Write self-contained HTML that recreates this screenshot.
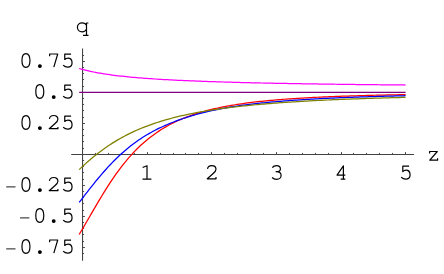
<!DOCTYPE html>
<html><head><meta charset="utf-8"><title>q(z)</title><style>
html,body{margin:0;padding:0;background:#fff;}
body{width:444px;height:274px;overflow:hidden;font-family:"Liberation Mono",monospace;}
svg{display:block}
</style></head><body>
<svg width="444" height="274" viewBox="0 0 444 274">
<rect width="444" height="274" fill="#fff"/>
<path d="M71.21,154.45 H414.06 M82.55,48.5 V260.7" stroke="#424242" stroke-width="1.05" fill="none"/>
<path d="M82.50,154.45 v-2.4 M95.50,154.45 v-1.5 M108.50,154.45 v-1.5 M121.50,154.45 v-1.5 M134.50,154.45 v-1.5 M147.50,154.45 v-2.4 M160.50,154.45 v-1.5 M173.50,154.45 v-1.5 M185.50,154.45 v-1.5 M198.50,154.45 v-1.5 M211.50,154.45 v-2.4 M224.50,154.45 v-1.5 M237.50,154.45 v-1.5 M250.50,154.45 v-1.5 M263.50,154.45 v-1.5 M276.50,154.45 v-2.4 M289.50,154.45 v-1.5 M302.50,154.45 v-1.5 M315.50,154.45 v-1.5 M328.50,154.45 v-1.5 M341.50,154.45 v-2.4 M353.50,154.45 v-1.5 M366.50,154.45 v-1.5 M379.50,154.45 v-1.5 M392.50,154.45 v-1.5 M405.50,154.45 v-2.4 M82.55,253.50 h1.5 M82.55,247.50 h2.4 M82.55,241.50 h1.5 M82.55,234.50 h1.5 M82.55,228.50 h1.5 M82.55,222.50 h1.5 M82.55,216.50 h2.4 M82.55,210.50 h1.5 M82.55,203.50 h1.5 M82.55,197.50 h1.5 M82.55,191.50 h1.5 M82.55,185.50 h2.4 M82.55,179.50 h1.5 M82.55,172.50 h1.5 M82.55,166.50 h1.5 M82.55,160.50 h1.5 M82.55,154.50 h2.4 M82.55,148.50 h1.5 M82.55,141.50 h1.5 M82.55,135.50 h1.5 M82.55,129.50 h1.5 M82.55,123.50 h2.4 M82.55,117.50 h1.5 M82.55,110.50 h1.5 M82.55,104.50 h1.5 M82.55,98.50 h1.5 M82.55,92.50 h2.4 M82.55,86.50 h1.5 M82.55,79.50 h1.5 M82.55,73.50 h1.5 M82.55,67.50 h1.5 M82.55,61.50 h2.4 M82.55,55.50 h1.5" stroke="#424242" stroke-width="0.95" fill="none"/>
<path d="M79.18,234.45 L81.23,231.03 L83.28,227.56 L85.34,224.04 L87.39,220.51 L89.44,216.95 L91.49,213.40 L93.55,209.85 L95.60,206.33 L97.65,202.83 L99.71,199.37 L101.76,195.96 L103.81,192.61 L105.86,189.31 L107.92,186.09 L109.97,182.93 L112.02,179.85 L114.08,176.84 L116.13,173.92 L118.18,171.08 L120.24,168.33 L122.29,165.65 L124.34,163.07 L126.39,160.56 L128.45,158.14 L130.50,155.81 L132.55,153.55 L134.61,151.38 L136.66,149.29 L138.71,147.27 L140.77,145.32 L142.82,143.45 L144.87,141.66 L146.92,139.93 L148.98,138.26 L151.03,136.66 L153.08,135.13 L155.14,133.65 L157.19,132.23 L159.24,130.87 L161.30,129.56 L163.35,128.30 L165.40,127.09 L167.45,125.93 L169.51,124.82 L171.56,123.75 L173.61,122.72 L175.67,121.73 L177.72,120.78 L179.77,119.86 L181.83,118.99 L183.88,118.14 L185.93,117.33 L187.98,116.55 L190.04,115.80 L192.09,115.08 L194.14,114.38 L196.20,113.71 L198.25,113.07 L200.30,112.45 L202.35,111.85 L204.41,111.28 L206.46,110.72 L208.51,110.19 L210.57,109.67 L212.62,109.18 L214.67,108.70 L216.73,108.24 L218.78,107.80 L220.83,107.37 L222.88,106.95 L224.94,106.55 L226.99,106.17 L229.04,105.80 L231.10,105.44 L233.15,105.09 L235.20,104.75 L237.26,104.43 L239.31,104.11 L241.36,103.81 L243.41,103.52 L245.47,103.23 L247.52,102.96 L249.57,102.69 L251.63,102.44 L253.68,102.19 L255.73,101.95 L257.79,101.71 L259.84,101.49 L261.89,101.27 L263.94,101.05 L266.00,100.85 L268.05,100.65 L270.10,100.45 L272.16,100.27 L274.21,100.08 L276.26,99.91 L278.32,99.73 L280.37,99.57 L282.42,99.41 L284.47,99.25 L286.53,99.10 L288.58,98.95 L290.63,98.80 L292.69,98.66 L294.74,98.53 L296.79,98.40 L298.85,98.27 L300.90,98.14 L302.95,98.02 L305.00,97.90 L307.06,97.79 L309.11,97.67 L311.16,97.56 L313.22,97.46 L315.27,97.36 L317.32,97.25 L319.37,97.16 L321.43,97.06 L323.48,96.97 L325.53,96.88 L327.59,96.79 L329.64,96.70 L331.69,96.62 L333.75,96.54 L335.80,96.46 L337.85,96.38 L339.90,96.30 L341.96,96.23 L344.01,96.16 L346.06,96.09 L348.12,96.02 L350.17,95.95 L352.22,95.88 L354.28,95.82 L356.33,95.76 L358.38,95.70 L360.43,95.64 L362.49,95.58 L364.54,95.52 L366.59,95.46 L368.65,95.41 L370.70,95.36 L372.75,95.31 L374.81,95.25 L376.86,95.20 L378.91,95.16 L380.96,95.11 L383.02,95.06 L385.07,95.02 L387.12,94.97 L389.18,94.93 L391.23,94.89 L393.28,94.84 L395.34,94.80 L397.39,94.76 L399.44,94.72 L401.49,94.69 L403.55,94.65 L405.60,94.61" stroke="#ff0000" stroke-width="1.25" fill="none" stroke-linejoin="round"/>
<path d="M79.18,202.43 L81.23,199.77 L83.28,197.11 L85.34,194.46 L87.39,191.81 L89.44,189.19 L91.49,186.59 L93.55,184.02 L95.60,181.48 L97.65,178.99 L99.71,176.53 L101.76,174.12 L103.81,171.76 L105.86,169.46 L107.92,167.20 L109.97,165.00 L112.02,162.85 L114.08,160.76 L116.13,158.73 L118.18,156.75 L120.24,154.83 L122.29,152.97 L124.34,151.16 L126.39,149.42 L128.45,147.72 L130.50,146.08 L132.55,144.50 L134.61,142.96 L136.66,141.48 L138.71,140.05 L140.77,138.66 L142.82,137.33 L144.87,136.04 L146.92,134.79 L148.98,133.59 L151.03,132.43 L153.08,131.31 L155.14,130.23 L157.19,129.18 L159.24,128.17 L161.30,127.19 L163.35,126.25 L165.40,125.33 L167.45,124.45 L169.51,123.59 L171.56,122.76 L173.61,121.96 L175.67,121.18 L177.72,120.42 L179.77,119.68 L181.83,118.97 L183.88,118.28 L185.93,117.60 L187.98,116.95 L190.04,116.31 L192.09,115.70 L194.14,115.10 L196.20,114.52 L198.25,113.95 L200.30,113.40 L202.35,112.87 L204.41,112.36 L206.46,111.86 L208.51,111.38 L210.57,110.91 L212.62,110.46 L214.67,110.02 L216.73,109.59 L218.78,109.18 L220.83,108.78 L222.88,108.40 L224.94,108.03 L226.99,107.67 L229.04,107.32 L231.10,106.98 L233.15,106.65 L235.20,106.33 L237.26,106.03 L239.31,105.73 L241.36,105.44 L243.41,105.16 L245.47,104.89 L247.52,104.62 L249.57,104.36 L251.63,104.12 L253.68,103.87 L255.73,103.64 L257.79,103.41 L259.84,103.19 L261.89,102.97 L263.94,102.76 L266.00,102.55 L268.05,102.35 L270.10,102.16 L272.16,101.97 L274.21,101.79 L276.26,101.61 L278.32,101.43 L280.37,101.26 L282.42,101.09 L284.47,100.93 L286.53,100.77 L288.58,100.62 L290.63,100.47 L292.69,100.32 L294.74,100.18 L296.79,100.04 L298.85,99.90 L300.90,99.77 L302.95,99.64 L305.00,99.51 L307.06,99.39 L309.11,99.27 L311.16,99.15 L313.22,99.03 L315.27,98.92 L317.32,98.81 L319.37,98.70 L321.43,98.60 L323.48,98.49 L325.53,98.39 L327.59,98.29 L329.64,98.20 L331.69,98.10 L333.75,98.01 L335.80,97.92 L337.85,97.83 L339.90,97.74 L341.96,97.66 L344.01,97.58 L346.06,97.50 L348.12,97.42 L350.17,97.34 L352.22,97.26 L354.28,97.19 L356.33,97.12 L358.38,97.04 L360.43,96.97 L362.49,96.91 L364.54,96.84 L366.59,96.77 L368.65,96.71 L370.70,96.64 L372.75,96.58 L374.81,96.52 L376.86,96.46 L378.91,96.40 L380.96,96.35 L383.02,96.29 L385.07,96.23 L387.12,96.18 L389.18,96.13 L391.23,96.07 L393.28,96.02 L395.34,95.97 L397.39,95.92 L399.44,95.88 L401.49,95.83 L403.55,95.78 L405.60,95.74" stroke="#0000ff" stroke-width="1.25" fill="none" stroke-linejoin="round"/>
<path d="M79.18,169.61 L81.23,167.66 L83.28,165.75 L85.34,163.87 L87.39,162.04 L89.44,160.26 L91.49,158.51 L93.55,156.81 L95.60,155.15 L97.65,153.53 L99.71,151.96 L101.76,150.42 L103.81,148.94 L105.86,147.49 L107.92,146.08 L109.97,144.72 L112.02,143.39 L114.08,142.11 L116.13,140.86 L118.18,139.65 L120.24,138.48 L122.29,137.34 L124.34,136.23 L126.39,135.16 L128.45,134.12 L130.50,133.11 L132.55,132.14 L134.61,131.19 L136.66,130.27 L138.71,129.38 L140.77,128.52 L142.82,127.68 L144.87,126.87 L146.92,126.08 L148.98,125.32 L151.03,124.58 L153.08,123.86 L155.14,123.16 L157.19,122.48 L159.24,121.83 L161.30,121.19 L163.35,120.57 L165.40,119.97 L167.45,119.38 L169.51,118.82 L171.56,118.26 L173.61,117.73 L175.67,117.21 L177.72,116.70 L179.77,116.21 L181.83,115.73 L183.88,115.27 L185.93,114.82 L187.98,114.38 L190.04,113.95 L192.09,113.53 L194.14,113.13 L196.20,112.73 L198.25,112.35 L200.30,111.98 L202.35,111.61 L204.41,111.26 L206.46,110.91 L208.51,110.58 L210.57,110.25 L212.62,109.93 L214.67,109.62 L216.73,109.32 L218.78,109.02 L220.83,108.73 L222.88,108.45 L224.94,108.17 L226.99,107.91 L229.04,107.64 L231.10,107.39 L233.15,107.14 L235.20,106.90 L237.26,106.66 L239.31,106.43 L241.36,106.20 L243.41,105.98 L245.47,105.76 L247.52,105.55 L249.57,105.34 L251.63,105.14 L253.68,104.94 L255.73,104.75 L257.79,104.56 L259.84,104.38 L261.89,104.20 L263.94,104.02 L266.00,103.85 L268.05,103.68 L270.10,103.51 L272.16,103.35 L274.21,103.19 L276.26,103.03 L278.32,102.88 L280.37,102.73 L282.42,102.59 L284.47,102.44 L286.53,102.30 L288.58,102.17 L290.63,102.03 L292.69,101.90 L294.74,101.77 L296.79,101.64 L298.85,101.52 L300.90,101.40 L302.95,101.28 L305.00,101.16 L307.06,101.04 L309.11,100.93 L311.16,100.82 L313.22,100.71 L315.27,100.61 L317.32,100.50 L319.37,100.40 L321.43,100.30 L323.48,100.20 L325.53,100.10 L327.59,100.00 L329.64,99.91 L331.69,99.82 L333.75,99.73 L335.80,99.64 L337.85,99.55 L339.90,99.47 L341.96,99.38 L344.01,99.30 L346.06,99.22 L348.12,99.14 L350.17,99.06 L352.22,98.98 L354.28,98.91 L356.33,98.83 L358.38,98.76 L360.43,98.69 L362.49,98.61 L364.54,98.54 L366.59,98.48 L368.65,98.41 L370.70,98.34 L372.75,98.28 L374.81,98.21 L376.86,98.15 L378.91,98.09 L380.96,98.02 L383.02,97.96 L385.07,97.90 L387.12,97.85 L389.18,97.79 L391.23,97.73 L393.28,97.68 L395.34,97.62 L397.39,97.57 L399.44,97.51 L401.49,97.46 L403.55,97.41 L405.60,97.36" stroke="#808000" stroke-width="1.25" fill="none" stroke-linejoin="round"/>
<path d="M79.18,68.48 L81.23,69.07 L83.28,69.63 L85.34,70.16 L87.39,70.66 L89.44,71.13 L91.49,71.58 L93.55,72.00 L95.60,72.40 L97.65,72.78 L99.71,73.15 L101.76,73.49 L103.81,73.82 L105.86,74.14 L107.92,74.44 L109.97,74.73 L112.02,75.01 L114.08,75.28 L116.13,75.53 L118.18,75.78 L120.24,76.02 L122.29,76.24 L124.34,76.46 L126.39,76.67 L128.45,76.88 L130.50,77.08 L132.55,77.27 L134.61,77.45 L136.66,77.63 L138.71,77.80 L140.77,77.97 L142.82,78.13 L144.87,78.29 L146.92,78.44 L148.98,78.58 L151.03,78.73 L153.08,78.87 L155.14,79.00 L157.19,79.13 L159.24,79.26 L161.30,79.38 L163.35,79.51 L165.40,79.62 L167.45,79.74 L169.51,79.85 L171.56,79.96 L173.61,80.06 L175.67,80.17 L177.72,80.27 L179.77,80.37 L181.83,80.46 L183.88,80.56 L185.93,80.65 L187.98,80.74 L190.04,80.83 L192.09,80.91 L194.14,80.99 L196.20,81.08 L198.25,81.16 L200.30,81.23 L202.35,81.31 L204.41,81.39 L206.46,81.46 L208.51,81.53 L210.57,81.60 L212.62,81.67 L214.67,81.74 L216.73,81.81 L218.78,81.87 L220.83,81.94 L222.88,82.00 L224.94,82.06 L226.99,82.12 L229.04,82.18 L231.10,82.24 L233.15,82.30 L235.20,82.35 L237.26,82.41 L239.31,82.46 L241.36,82.51 L243.41,82.57 L245.47,82.62 L247.52,82.67 L249.57,82.72 L251.63,82.77 L253.68,82.82 L255.73,82.86 L257.79,82.91 L259.84,82.95 L261.89,83.00 L263.94,83.04 L266.00,83.09 L268.05,83.13 L270.10,83.17 L272.16,83.21 L274.21,83.26 L276.26,83.30 L278.32,83.34 L280.37,83.37 L282.42,83.41 L284.47,83.45 L286.53,83.49 L288.58,83.53 L290.63,83.56 L292.69,83.60 L294.74,83.63 L296.79,83.67 L298.85,83.70 L300.90,83.74 L302.95,83.77 L305.00,83.80 L307.06,83.84 L309.11,83.87 L311.16,83.90 L313.22,83.93 L315.27,83.96 L317.32,83.99 L319.37,84.02 L321.43,84.05 L323.48,84.08 L325.53,84.11 L327.59,84.14 L329.64,84.17 L331.69,84.20 L333.75,84.22 L335.80,84.25 L337.85,84.28 L339.90,84.30 L341.96,84.33 L344.01,84.36 L346.06,84.38 L348.12,84.41 L350.17,84.43 L352.22,84.46 L354.28,84.48 L356.33,84.51 L358.38,84.53 L360.43,84.55 L362.49,84.58 L364.54,84.60 L366.59,84.62 L368.65,84.64 L370.70,84.67 L372.75,84.69 L374.81,84.71 L376.86,84.73 L378.91,84.75 L380.96,84.78 L383.02,84.80 L385.07,84.82 L387.12,84.84 L389.18,84.86 L391.23,84.88 L393.28,84.90 L395.34,84.92 L397.39,84.94 L399.44,84.96 L401.49,84.97 L403.55,84.99 L405.60,85.01" stroke="#ff00ff" stroke-width="1.25" fill="none" stroke-linejoin="round"/>
<path d="M79.18,92.30 L81.23,92.30 L83.28,92.30 L85.34,92.30 L87.39,92.30 L89.44,92.30 L91.49,92.30 L93.55,92.30 L95.60,92.30 L97.65,92.30 L99.71,92.30 L101.76,92.30 L103.81,92.30 L105.86,92.30 L107.92,92.30 L109.97,92.30 L112.02,92.30 L114.08,92.30 L116.13,92.30 L118.18,92.30 L120.24,92.30 L122.29,92.30 L124.34,92.30 L126.39,92.30 L128.45,92.30 L130.50,92.30 L132.55,92.30 L134.61,92.30 L136.66,92.30 L138.71,92.30 L140.77,92.30 L142.82,92.30 L144.87,92.30 L146.92,92.30 L148.98,92.30 L151.03,92.30 L153.08,92.30 L155.14,92.30 L157.19,92.30 L159.24,92.30 L161.30,92.30 L163.35,92.30 L165.40,92.30 L167.45,92.30 L169.51,92.30 L171.56,92.30 L173.61,92.30 L175.67,92.30 L177.72,92.30 L179.77,92.30 L181.83,92.30 L183.88,92.30 L185.93,92.30 L187.98,92.30 L190.04,92.30 L192.09,92.30 L194.14,92.30 L196.20,92.30 L198.25,92.30 L200.30,92.30 L202.35,92.30 L204.41,92.30 L206.46,92.30 L208.51,92.30 L210.57,92.30 L212.62,92.30 L214.67,92.30 L216.73,92.30 L218.78,92.30 L220.83,92.30 L222.88,92.30 L224.94,92.30 L226.99,92.30 L229.04,92.30 L231.10,92.30 L233.15,92.30 L235.20,92.30 L237.26,92.30 L239.31,92.30 L241.36,92.30 L243.41,92.30 L245.47,92.30 L247.52,92.30 L249.57,92.30 L251.63,92.30 L253.68,92.30 L255.73,92.30 L257.79,92.30 L259.84,92.30 L261.89,92.30 L263.94,92.30 L266.00,92.30 L268.05,92.30 L270.10,92.30 L272.16,92.30 L274.21,92.30 L276.26,92.30 L278.32,92.30 L280.37,92.30 L282.42,92.30 L284.47,92.30 L286.53,92.30 L288.58,92.30 L290.63,92.30 L292.69,92.30 L294.74,92.30 L296.79,92.30 L298.85,92.30 L300.90,92.30 L302.95,92.30 L305.00,92.30 L307.06,92.30 L309.11,92.30 L311.16,92.30 L313.22,92.30 L315.27,92.30 L317.32,92.30 L319.37,92.30 L321.43,92.30 L323.48,92.30 L325.53,92.30 L327.59,92.30 L329.64,92.30 L331.69,92.30 L333.75,92.30 L335.80,92.30 L337.85,92.30 L339.90,92.30 L341.96,92.30 L344.01,92.30 L346.06,92.30 L348.12,92.30 L350.17,92.30 L352.22,92.30 L354.28,92.30 L356.33,92.30 L358.38,92.30 L360.43,92.30 L362.49,92.30 L364.54,92.30 L366.59,92.30 L368.65,92.30 L370.70,92.30 L372.75,92.30 L374.81,92.30 L376.86,92.30 L378.91,92.30 L380.96,92.30 L383.02,92.30 L385.07,92.30 L387.12,92.30 L389.18,92.30 L391.23,92.30 L393.28,92.30 L395.34,92.30 L397.39,92.30 L399.44,92.30 L401.49,92.30 L403.55,92.30 L405.60,92.30" stroke="#800080" stroke-width="1.25" fill="none" stroke-linejoin="round"/>
<g stroke="#000" stroke-width="1.2" fill="none" stroke-linecap="butt" stroke-linejoin="round"><path transform="translate(67.55,67.70)" d="M3.5,-13.6 H-2.8 V-8.2 C-1.8,-9.1 -0.7,-9.6 0.4,-9.6 C2.9,-9.6 4.5,-7.7 4.5,-5.0 C4.5,-2.4 2.8,-0.6 0.2,-0.6 C-1.6,-0.6 -3.2,-1.3 -4.4,-2.6"/><path transform="translate(53.72,67.70)" d="M-4.1,-11.4 V-13.7 H4.0 L0.1,-0.5"/><circle cx="39.89" cy="66.10" r="1.35" fill="#000"/><path transform="translate(26.06,67.70)" d="M-0.1,-14.0 C2.7,-14.0 3.9,-11.2 3.9,-7.2 C3.9,-3.2 2.7,-0.4 -0.1,-0.4 C-2.9,-0.4 -4.1,-3.2 -4.1,-7.2 C-4.1,-11.2 -2.9,-14.0 -0.1,-14.0 Z"/><path transform="translate(67.55,98.70)" d="M3.5,-13.6 H-2.8 V-8.2 C-1.8,-9.1 -0.7,-9.6 0.4,-9.6 C2.9,-9.6 4.5,-7.7 4.5,-5.0 C4.5,-2.4 2.8,-0.6 0.2,-0.6 C-1.6,-0.6 -3.2,-1.3 -4.4,-2.6"/><circle cx="53.72" cy="97.10" r="1.35" fill="#000"/><path transform="translate(39.89,98.70)" d="M-0.1,-14.0 C2.7,-14.0 3.9,-11.2 3.9,-7.2 C3.9,-3.2 2.7,-0.4 -0.1,-0.4 C-2.9,-0.4 -4.1,-3.2 -4.1,-7.2 C-4.1,-11.2 -2.9,-14.0 -0.1,-14.0 Z"/><path transform="translate(67.55,129.70)" d="M3.5,-13.6 H-2.8 V-8.2 C-1.8,-9.1 -0.7,-9.6 0.4,-9.6 C2.9,-9.6 4.5,-7.7 4.5,-5.0 C4.5,-2.4 2.8,-0.6 0.2,-0.6 C-1.6,-0.6 -3.2,-1.3 -4.4,-2.6"/><path transform="translate(53.72,129.70)" d="M-4.3,-10.9 C-4.0,-13.0 -2.3,-14.2 -0.1,-14.2 C2.4,-14.2 4.2,-12.8 4.2,-10.5 C4.2,-8.6 3.0,-7.6 1.1,-6.0 L-4.5,-1.0 H4.2 V-2.8"/><circle cx="39.89" cy="128.10" r="1.35" fill="#000"/><path transform="translate(26.06,129.70)" d="M-0.1,-14.0 C2.7,-14.0 3.9,-11.2 3.9,-7.2 C3.9,-3.2 2.7,-0.4 -0.1,-0.4 C-2.9,-0.4 -4.1,-3.2 -4.1,-7.2 C-4.1,-11.2 -2.9,-14.0 -0.1,-14.0 Z"/><path transform="translate(67.55,191.70)" d="M3.5,-13.6 H-2.8 V-8.2 C-1.8,-9.1 -0.7,-9.6 0.4,-9.6 C2.9,-9.6 4.5,-7.7 4.5,-5.0 C4.5,-2.4 2.8,-0.6 0.2,-0.6 C-1.6,-0.6 -3.2,-1.3 -4.4,-2.6"/><path transform="translate(53.72,191.70)" d="M-4.3,-10.9 C-4.0,-13.0 -2.3,-14.2 -0.1,-14.2 C2.4,-14.2 4.2,-12.8 4.2,-10.5 C4.2,-8.6 3.0,-7.6 1.1,-6.0 L-4.5,-1.0 H4.2 V-2.8"/><circle cx="39.89" cy="190.10" r="1.35" fill="#000"/><path transform="translate(26.06,191.70)" d="M-0.1,-14.0 C2.7,-14.0 3.9,-11.2 3.9,-7.2 C3.9,-3.2 2.7,-0.4 -0.1,-0.4 C-2.9,-0.4 -4.1,-3.2 -4.1,-7.2 C-4.1,-11.2 -2.9,-14.0 -0.1,-14.0 Z"/><path d="M6.23,186.90 h9.3" stroke="#000" stroke-width="0.9" fill="none"/><path transform="translate(67.55,222.70)" d="M3.5,-13.6 H-2.8 V-8.2 C-1.8,-9.1 -0.7,-9.6 0.4,-9.6 C2.9,-9.6 4.5,-7.7 4.5,-5.0 C4.5,-2.4 2.8,-0.6 0.2,-0.6 C-1.6,-0.6 -3.2,-1.3 -4.4,-2.6"/><circle cx="53.72" cy="221.10" r="1.35" fill="#000"/><path transform="translate(39.89,222.70)" d="M-0.1,-14.0 C2.7,-14.0 3.9,-11.2 3.9,-7.2 C3.9,-3.2 2.7,-0.4 -0.1,-0.4 C-2.9,-0.4 -4.1,-3.2 -4.1,-7.2 C-4.1,-11.2 -2.9,-14.0 -0.1,-14.0 Z"/><path d="M20.06,217.90 h9.3" stroke="#000" stroke-width="0.9" fill="none"/><path transform="translate(67.55,253.70)" d="M3.5,-13.6 H-2.8 V-8.2 C-1.8,-9.1 -0.7,-9.6 0.4,-9.6 C2.9,-9.6 4.5,-7.7 4.5,-5.0 C4.5,-2.4 2.8,-0.6 0.2,-0.6 C-1.6,-0.6 -3.2,-1.3 -4.4,-2.6"/><path transform="translate(53.72,253.70)" d="M-4.1,-11.4 V-13.7 H4.0 L0.1,-0.5"/><circle cx="39.89" cy="252.10" r="1.35" fill="#000"/><path transform="translate(26.06,253.70)" d="M-0.1,-14.0 C2.7,-14.0 3.9,-11.2 3.9,-7.2 C3.9,-3.2 2.7,-0.4 -0.1,-0.4 C-2.9,-0.4 -4.1,-3.2 -4.1,-7.2 C-4.1,-11.2 -2.9,-14.0 -0.1,-14.0 Z"/><path d="M6.23,248.90 h9.3" stroke="#000" stroke-width="0.9" fill="none"/><path transform="translate(147.20,179.80)" d="M-4.6,-12.3 L-0.2,-14.1 L-0.2,-0.6 M-4.7,-0.6 H4.2"/><path transform="translate(211.80,179.80)" d="M-4.3,-10.9 C-4.0,-13.0 -2.3,-14.2 -0.1,-14.2 C2.4,-14.2 4.2,-12.8 4.2,-10.5 C4.2,-8.6 3.0,-7.6 1.1,-6.0 L-4.5,-1.0 H4.2 V-2.8"/><path transform="translate(276.40,179.80)" d="M-4.1,-12.2 C-3.2,-13.5 -1.7,-14.2 0.1,-14.2 C2.4,-14.2 4.0,-12.9 4.0,-10.9 C4.0,-9.0 2.4,-8.1 -0.3,-8.1 C2.7,-8.1 4.7,-6.8 4.7,-4.3 C4.7,-1.9 2.8,-0.45 0.2,-0.45 C-1.6,-0.45 -3.2,-1.1 -4.3,-2.3"/><path transform="translate(341.00,179.80)" d="M2.4,-0.6 V-14.0 L-4.0,-4.7 H4.3 M-0.3,-0.6 H4.3"/><path transform="translate(405.60,179.80)" d="M3.5,-13.6 H-2.8 V-8.2 C-1.8,-9.1 -0.7,-9.6 0.4,-9.6 C2.9,-9.6 4.5,-7.7 4.5,-5.0 C4.5,-2.4 2.8,-0.6 0.2,-0.6 C-1.6,-0.6 -3.2,-1.3 -4.4,-2.6"/><path transform="translate(82.40,33.30)" d="M4.1,-8.0 C3.3,-9.6 1.7,-10.4 -0.3,-10.4 C-3.0,-10.4 -5.0,-8.5 -5.0,-6.0 C-5.0,-3.5 -3.0,-1.5 -0.3,-1.5 C1.7,-1.5 3.3,-2.4 4.1,-4.0 M6.0,-10.3 H4.1 V2.1 M0.6,2.1 H6.1"/><path transform="translate(433.50,160.20)" d="M-3.9,-6.7 V-8.7 H3.8 L-3.7,0 H4.1 V-2.0"/></g>
</svg>
</body></html>
